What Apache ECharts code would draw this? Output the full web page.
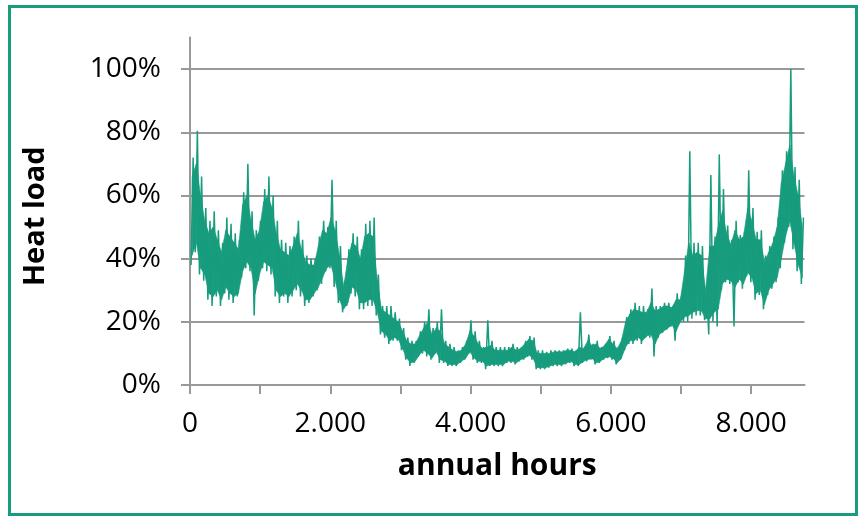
<!DOCTYPE html>
<html><head><meta charset="utf-8">
<script src="https://cdn.jsdelivr.net/npm/echarts@6/dist/echarts.min.js"></script>
<style>
html,body{margin:0;padding:0;background:#fff;}
#chart{position:absolute;left:0;top:0;width:860px;height:516px;}
#frame{position:absolute;left:8px;top:5px;width:844px;height:505px;border:3px solid #179c7d;pointer-events:none;}
</style></head><body>
<div id="chart"></div><div id="frame"></div>
<script>
// ---- data: heat load in %, per 60-hour block of the year ----
const bucketHours = 60;
// extreme low / high within each block (the spiky envelope)
const lowValues = [
 38,42,35,33,27,25,28,25,29,27,
 26,28,34,37,36,22,33,37,36,35,
 28,26,28,26,28,30,28,25,26,28,
 30,32,36,37,31,26,23,25,29,28,
 24,24,25,25,22,16,15,13,14,14,
 11,8,6,7,9,10,9,8,10,7,
 7,6,6,6,7,8,10,8,7,7,
 5,6,6,6,6,7,7,6.5,7.5,8,
 9,8,5,5,5,5.5,6,6,6,6.5,
 7,6,6,7,7.5,8,6.5,7,8,8.5,
 8,6.5,8,11,13,13,14,13,15,15,
 9,15,16.5,17.5,18.5,14,19.5,20,20,21,
 22,22,20.5,16,20,18.5,30,32.5,32,18.5,
 32.5,30.5,34.5,32.5,27,28.5,24,28.5,30.5,32.5,
 37,45,50,43,36,32
];
const highValues = [
 72,80.5,66,56,52,55,49,45,53,51,
 48,46,61,70,55,49,52,62,66,60,
 52,46,45,44,47,52,46,41,40,40,
 47,52,50,65,52,44,33,43,48,47,
 43,51,52,53,35,25,25,25,23,21,
 18,15,14,14,17,20,24,18,20,24,
 14,13,12,11,12,14,20.5,17,14,12,
 20.5,14,12,12,12,12,13,12,12,14,
 15.5,15,11,11,10.5,11,11,11,11,11.5,
 11.5,11,23,12,16,13,14,12,13,15.5,
 14,12,15,21.5,24,26,25,25,24,30.5,
 25,25,26,26,25,29,28,41,74,45,
 45,44,31,66.5,47,73,62,50.5,46,52,
 47.5,48.5,68,56,48.5,49,41,44,47,53,
 68,74,100,69,65,53
];
// solid core of the band within each block
const coreLowValues = [
 41,45,37,35,29,28,30,27,31,29,
 28,29,36,39,37,29,35,39,38,37,
 30,28,29,28,30,32,30,27,27,29,
 31,34,37,38,33,27,24,26,31,30,
 26,26,27,27,23,17,16,14,15,14.5,
 11.5,8.5,7,7.5,9.5,11,10,8.5,10.5,8,
 7.5,6.5,6.5,6.5,7.5,8.5,10.5,8.5,7.5,7.5,
 6,6.5,6.5,6.5,6.5,7.5,7.5,7,8,8.5,
 9.5,8.5,5.5,5.5,5.5,6,6.5,6.5,6.5,7,
 7.5,6.5,6.5,7.5,8,8.5,7,7.5,8.5,9,
 8.5,7,8.5,12,14,14,15,14,15.5,16,
 13,16,17,18,19,17,20,21.5,22,23,
 23.5,23.5,21,21,23,24,32,33.5,33,31,
 33.5,32,35.5,34,29,30,25.5,30,32,34,
 40,47,52,45,38,34
];
const coreHighValues = [
 66,70,60,52,48,50,46,42,49,47,
 45,43,57,60,52,46,49,58,60,56,
 48,43,42,41,44,48,43,39,38,38,
 44,49,48,53,49,41,31,40,45,44,
 40,47,48,47,33,24,23,22,21,20,
 17,14,13,13,15.5,18,20,16,18,17,
 13,12,11,10.5,11,13,17,15.5,13,11.5,
 12,12.5,11,11,11,11,12,11,11.5,13,
 14.5,14,10,10,10,10,10.5,10.5,10.5,11,
 11,10.5,12,11.5,14,12.5,13,11.5,12.5,14.5,
 13,11.5,14,20,22.5,24,23.5,23,23,26,
 23.5,24,25,25,24.5,27,27,36,45,41,
 42,41,30,44,44,50,55,48,44.5,49,
 46,47,56,52,46,46,39,42,45,50,
 64,70,76,66,60,50
];
const xTickLabels = ['0', '2.000', '4.000', '6.000', '8.000'];
const yTickLabels = ['0%', '20%', '40%', '60%', '80%', '100%'];
const xName = 'annual hours';
const yName = 'Heat load';

// ---- build series items from the arrays ----
const zigzag = [];
for (let i = 0; i < lowValues.length; i++) {
  zigzag.push([i * bucketHours + bucketHours * 0.25, lowValues[i]]);
  zigzag.push([i * bucketHours + bucketHours * 0.75, highValues[i]]);
}
// band segments: [t0, low0, high0, t1, low1, high1]
const bandSegments = [];
for (let i = 0; i < coreLowValues.length - 1; i++) {
  bandSegments.push([
    i * bucketHours + bucketHours * 0.5, coreLowValues[i], coreHighValues[i],
    (i + 1) * bucketHours + bucketHours * 0.5, coreLowValues[i + 1], coreHighValues[i + 1]
  ]);
}

const FONT = 'Open Sans';
const GREEN = '#179c7d';
const GRID_COLOR = '#999999';
const plotLeft = 190, plotRight = 804.5, plotTop = 37.5, plotBottom = 385;
const W = 860, H = 516;
const yMaxAxis = 110, xMaxAxis = 8760;
const topB = plotBottom - (plotBottom - plotTop) * 100 / yMaxAxis;
const widthC = (plotRight - plotLeft) * 8000 / xMaxAxis;

const chart = echarts.init(document.getElementById('chart'), null, {renderer: 'canvas'});
chart.setOption({
  animation: false,
  backgroundColor: '#ffffff',
  textStyle: {fontFamily: FONT},
  grid: [
    {left: plotLeft, right: W - plotRight, top: plotTop, bottom: H - plotBottom},
    {left: plotLeft, right: W - plotRight, top: topB, bottom: H - plotBottom},
    {left: plotLeft, width: widthC, top: plotTop, bottom: H - plotBottom}
  ],
  xAxis: [
    {gridIndex: 0, type: 'value', min: 0, max: xMaxAxis,
     axisLine: {show: true, onZero: false, lineStyle: {color: GRID_COLOR, width: 2}},
     axisTick: {show: false}, axisLabel: {show: false}, splitLine: {show: false},
     name: xName, nameLocation: 'middle', nameGap: 66,
     nameTextStyle: {fontFamily: FONT, fontSize: 30, fontWeight: 'bold', color: '#000'}},
    {gridIndex: 1, type: 'value', min: 0, max: 1, show: false},
    {gridIndex: 2, type: 'value', min: 0, max: 8000, interval: 1000,
     axisLine: {show: false},
     axisTick: {show: true, length: 9, lineStyle: {color: GRID_COLOR, width: 2}},
     axisLabel: {show: true, margin: 25, fontFamily: FONT, fontSize: 28, color: '#000',
       formatter: v => (v % 2000 === 0 ? xTickLabels[v / 2000] : '')},
     splitLine: {show: false}}
  ],
  yAxis: [
    {gridIndex: 0, type: 'value', min: 0, max: yMaxAxis,
     axisLine: {show: true, onZero: false, lineStyle: {color: GRID_COLOR, width: 2}},
     axisTick: {show: false}, axisLabel: {show: false}, splitLine: {show: false},
     name: yName, nameLocation: 'middle', nameGap: 140,
     nameTextStyle: {fontFamily: FONT, fontSize: 29, fontWeight: 'bold', color: '#000',
       padding: [0, 10, 0, 0]}},
    {gridIndex: 1, type: 'value', min: 0, max: 100, interval: 20,
     axisLine: {show: false},
     axisTick: {show: true, length: 9, lineStyle: {color: GRID_COLOR, width: 2}},
     axisLabel: {show: true, margin: 29, fontFamily: FONT, fontSize: 28, color: '#000',
       formatter: v => yTickLabels[Math.round(v / 20)]},
     splitLine: {show: true, lineStyle: {color: GRID_COLOR, width: 2}}},
    {gridIndex: 2, type: 'value', min: 0, max: 1, show: false}
  ],
  series: [
    {type: 'custom', name: 'band', xAxisIndex: 0, yAxisIndex: 0, clip: true, silent: true, z: 4,
     data: bandSegments,
     encode: {x: [0, 3], y: [1, 2, 4, 5]},
     renderItem: function (params, api) {
       const t0 = api.value(0), lo0 = api.value(1), hi0 = api.value(2);
       const t1 = api.value(3), lo1 = api.value(4), hi1 = api.value(5);
       const pts = [api.coord([t0, lo0]), api.coord([t0, hi0]),
                    api.coord([t1, hi1]), api.coord([t1, lo1])];
       return {type: 'polygon', shape: {points: pts},
               style: {fill: GREEN, stroke: GREEN, lineWidth: 0.6}};
     }},
    {type: 'line', name: 'Heat load', xAxisIndex: 0, yAxisIndex: 0,
     data: zigzag, showSymbol: false, symbol: 'none', sampling: null,
     lineStyle: {color: GREEN, width: 1.5}, z: 5, silent: true}
  ]
});
</script>
</body></html>
